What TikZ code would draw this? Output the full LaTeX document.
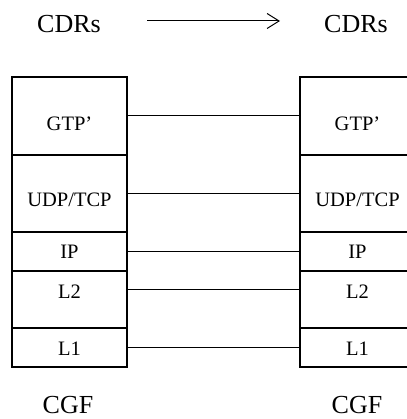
\documentclass[tikz,border=0pt]{standalone}
\usepackage{fontspec}
\setmainfont{Liberation Serif}
\usetikzlibrary{arrows.meta,positioning}
\tikzset{layer/.style={draw, line width=1.5pt, minimum width=115pt, inner sep=0pt}}
\tikzset{layer text/.style={anchor=base, inner sep=0pt, font=\fontsize{20.5}{24}\selectfont}}
\tikzset{entity/.style={inner sep=0pt, font=\fontsize{26}{30}\selectfont}}
\tikzset{peer link/.style={line width=1pt}}

\begin{document}
\begin{tikzpicture}[x=1pt,y=-1pt]
	\useasboundingbox (0,0) rectangle (406,419);
	% protocol stacks
	\node[layer, minimum height=78pt] at (69.5,116)   (l_gtp) {};
	\node[layer, minimum height=77pt] at (69.5,193.5) (l_udp) {};
	\node[layer, minimum height=39pt] at (69.5,251.5) (l_ip)  {};
	\node[layer, minimum height=57pt] at (69.5,299.5) (l_l2)  {};
	\node[layer, minimum height=39pt] at (69.5,347.5) (l_l1)  {};
	\node[layer, minimum height=78pt] at (357.5,116)   (r_gtp) {};
	\node[layer, minimum height=77pt] at (357.5,193.5) (r_udp) {};
	\node[layer, minimum height=39pt] at (357.5,251.5) (r_ip)  {};
	\node[layer, minimum height=57pt] at (357.5,299.5) (r_l2)  {};
	\node[layer, minimum height=39pt] at (357.5,347.5) (r_l1)  {};
	\node[layer text] at (69.5,130.8) (t_lgtp) {GTP’};
	\node[layer text] at (69.5,206.8) (t_ludp) {UDP/TCP};
	\node[layer text] at (69.5,258.8) (t_lip)  {IP};
	\node[layer text] at (69.5,298)   (t_ll2)  {L2};
	\node[layer text] at (69.5,355)   (t_ll1)  {L1};
	\node[layer text] at (357.5,130.8) (t_rgtp) {GTP’};
	\node[layer text] at (357.5,206.8) (t_rudp) {UDP/TCP};
	\node[layer text] at (357.5,258.8) (t_rip)  {IP};
	\node[layer text] at (357.5,298)   (t_rl2)  {L2};
	\node[layer text] at (357.5,355)   (t_rl1)  {L1};
	% peer links
	\draw[peer link] (l_gtp.east) -- (r_gtp.west);
	\draw[peer link] (l_udp.east) -- (r_udp.west);
	\draw[peer link] (l_ip.east) -- (r_ip.west);
	\draw[peer link] ([yshift=10.5pt]l_l2.east) -- ([yshift=10.5pt]r_l2.west);
	\draw[peer link] (l_l1.east) -- (r_l1.west);
	% entities
	\node[entity] at (69,24)   (cdr_l) {CDRs};
	\node[entity] at (356,24)  (cdr_r) {CDRs};
	\node[entity] at (68,405)  (cgf_l) {CGF};
	\node[entity] at (357,405) (cgf_r) {CGF};
	\coordinate (a_from) at (147,21);
	\coordinate (a_to) at (280,21);
	\draw[line width=1pt,-{Straight Barb[length=12pt,width=15pt]}] (a_from) -- (a_to);
\end{tikzpicture}
\end{document}
